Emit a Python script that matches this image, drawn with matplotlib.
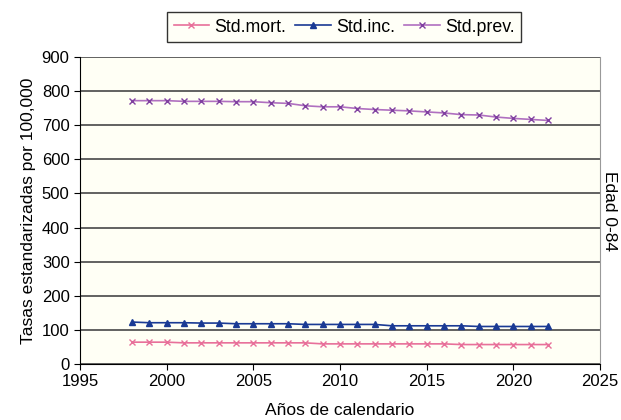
import matplotlib
matplotlib.use("Agg")
import matplotlib.pyplot as plt

plt.rcParams['font.family'] = ['Liberation Sans', 'DejaVu Sans']

years = list(range(1998, 2023))
std_mort = [64, 64, 64, 62, 62, 62, 62, 62, 62, 62, 62, 59, 59, 59, 59, 59, 59, 59, 59, 57, 57, 57, 57, 57, 57]
std_inc = [123, 121, 121, 121, 120, 120, 118, 118, 118, 118, 116, 116, 116, 116, 116, 112, 112, 112, 112, 112, 110, 110, 110, 110, 110]
std_prev = [772, 772, 772, 770, 770, 770, 769, 769, 766, 764, 757, 754, 754, 749, 746, 744, 742, 739, 736, 731, 730, 724, 720, 717, 714]

fig = plt.figure(figsize=(6.21, 4.2), dpi=100)
ax = fig.add_axes([80 / 621, 1 - 364 / 420, 520 / 621, 307 / 420])
ax.set_facecolor('#FFFFF5')

ax.plot(years, std_mort, color='#E8709A', marker='x', markersize=4, lw=1.2, label='Std.mort.')
ax.plot(years, std_inc, color='#1A3A94', marker='^', markersize=4, lw=1.2, label='Std.inc.')
ax.plot(years, std_prev, color='#B070C0', marker='x', markersize=4, lw=1.2, markeredgecolor='#8040A0', label='Std.prev.')

ax.set_xlim(1995, 2025)
ax.set_ylim(0, 900)
ax.set_xticks(range(1995, 2026, 5))
ax.set_yticks(range(0, 901, 100))
ax.yaxis.grid(True, color='#555555', lw=1.3)
ax.set_axisbelow(True)
ax.spines['right'].set_color('#999999')
ax.spines['top'].set_visible(False)
ax.tick_params(labelsize=12, direction='out', length=4)
ax.set_xlabel('Años de calendario', fontsize=12.5, labelpad=10)
ax.set_ylabel('Tasas estandarizadas por 100,000', fontsize=12.5)

ax2 = ax.twinx()
ax2.set_yticks([])
ax2.spines[:].set_visible(False)
ax2.set_ylabel('Edad 0-84', rotation=270, fontsize=12.5, labelpad=12)

leg = fig.legend(loc='center', bbox_to_anchor=(344 / 621, 1 - 27 / 420), ncol=3, fontsize=12.8,
                 frameon=True, fancybox=False, edgecolor='black', facecolor='#FFFFF5',
                 handlelength=2, columnspacing=0.5, handletextpad=0.3, borderpad=0.35)
leg.get_frame().set_linewidth(1.0)

fig.savefig('out.png', dpi=100)
